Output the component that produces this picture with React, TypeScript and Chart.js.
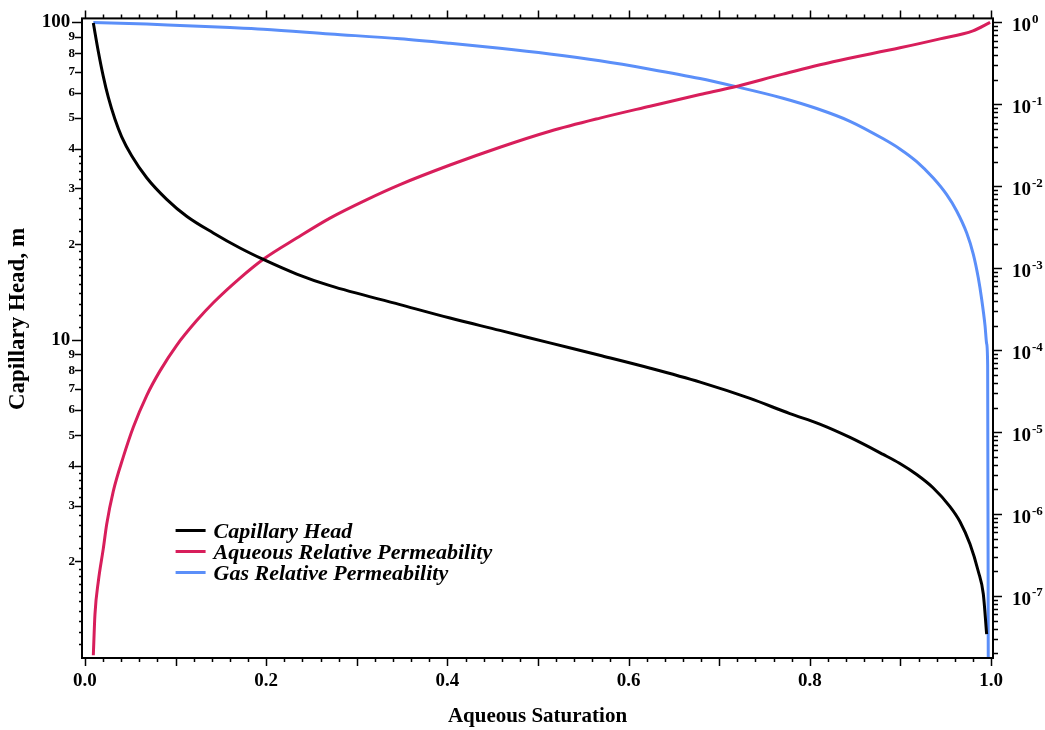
import React, { useEffect, useRef } from "react";
import { Chart, registerables } from "chart.js";

Chart.register(...registerables);

// ---------- data ----------
const CAP_S = [0.0092, 0.0147, 0.0202, 0.0257, 0.0331, 0.0405, 0.0515, 0.0681, 0.0902, 0.1122, 0.1416, 0.1711, 0.1968, 0.2337, 0.2704, 0.3477, 0.4029, 0.458, 0.513, 0.568, 0.624, 0.679, 0.734, 0.778, 0.811, 0.8444, 0.881, 0.899, 0.918, 0.9363, 0.9547, 0.9658, 0.9768, 0.986, 0.9915, 0.9952];
const CAP_H = [99.5, 81, 67.6, 58.1, 49.5, 43.6, 38.0, 32.4, 27.7, 24.5, 21.7, 19.45, 17.9, 16.1, 14.8, 12.9, 11.7, 10.7, 9.77, 8.93, 8.13, 7.35, 6.53, 5.85, 5.42, 4.92, 4.35, 4.08, 3.76, 3.41, 2.98, 2.67, 2.27, 1.86, 1.58, 1.18];

const AQ_S = [0.0092, 0.011, 0.0147, 0.0202, 0.024, 0.0312, 0.0423, 0.0533, 0.0681, 0.0828, 0.1012, 0.1233, 0.1416, 0.1711, 0.1968, 0.2337, 0.2704, 0.31, 0.3477, 0.4029, 0.4581, 0.5132, 0.5684, 0.6236, 0.6788, 0.7152, 0.7704, 0.8256, 0.8996, 0.9437, 0.9801, 0.999];
const AQ_K = [1.9e-8, 6.0e-8, 1.51e-7, 3.8e-7, 7.6e-7, 1.9e-6, 5.0e-6, 1.15e-5, 2.8e-5, 5.6e-5, 1.15e-4, 2.3e-4, 3.8e-4, 7.6e-4, 1.29e-3, 2.34e-3, 4.1e-3, 6.8e-3, 1.05e-2, 1.82e-2, 3.0e-2, 4.7e-2, 6.8e-2, 9.5e-2, 0.132, 0.162, 0.234, 0.331, 0.49, 0.63, 0.79, 1.0];

const GAS_S = [0.0092, 0.0681, 0.1049, 0.16, 0.1968, 0.2704, 0.3477, 0.4029, 0.458, 0.513, 0.5684, 0.6236, 0.6788, 0.7152, 0.7704, 0.8076, 0.8444, 0.8811, 0.899, 0.918, 0.9363, 0.9511, 0.9621, 0.9732, 0.9805, 0.986, 0.9897, 0.9934, 0.9952, 0.9963, 0.997];
const GAS_K = [1.0, 0.955, 0.918, 0.867, 0.828, 0.724, 0.631, 0.556, 0.484, 0.412, 0.34, 0.269, 0.207, 0.168, 0.119, 0.0891, 0.0622, 0.038, 0.0288, 0.02, 0.0126, 7.9e-3, 5.0e-3, 2.69e-3, 1.48e-3, 7.6e-4, 4.2e-4, 2.0e-4, 1.2e-4, 6.6e-5, 1.0e-8];

// ---------- axes / labels ----------
const SERIES_LABELS = ["Capillary Head", "Aqueous Relative Permeability", "Gas Relative Permeability"];
const SERIES_COLORS = ["#000000", "#d81e5b", "#5b8ff9"];
const X_TITLE = "Aqueous Saturation";
const Y_TITLE = "Capillary Head, m";
const X_LABEL_VALUES = [0, 0.2, 0.4, 0.6, 0.8, 1.0];
const X_MINOR_STEP = 0.02;
const LEFT_DECADES = [1, 10];
const LEFT_MANTISSAS = [1, 1.1, 1.2, 1.3, 1.4, 1.5, 1.6, 1.7, 1.8, 1.9, 2, 2.2, 2.4, 2.6, 2.8, 3, 3.2, 3.4, 3.6, 3.8, 4, 5, 6, 7, 8, 9];
const RIGHT_EXPONENTS = [0, -1, -2, -3, -4, -5, -6, -7];
const RIGHT_MANTISSAS = [1, 2, 3, 4, 5, 6, 7, 8, 9];

const X_MIN = -0.0033;
const X_MAX = 1.0022;
const Y_MIN = Math.pow(10, -0.0031);
const Y_MAX = Math.pow(10, 2.0126);
const Y2_MIN = Math.pow(10, -7.755);
const Y2_MAX = Math.pow(10, 0.049);

const FONT = "'Liberation Serif', 'Times New Roman', serif";

type TickDef = { v: number; label: string; len: number; big: boolean };

const LEFT_TICKS: TickDef[] = [];
for (const d of LEFT_DECADES) {
  for (const m of LEFT_MANTISSAS) {
    const v = m * d;
    const isInt = Number.isInteger(m);
    let label = "";
    let len = 3;
    let big = false;
    if (m === 1) {
      if (d > 1) { label = String(d) + " "; len = 10; big = true; } else { len = 0; }
    } else if (isInt) {
      label = String(m);
      len = 7;
    }
    LEFT_TICKS.push({ v, label, len, big });
  }
}
LEFT_TICKS.push({ v: 100, label: "100 ", len: 10, big: true });

const RIGHT_TICKS: { v: number; len: number }[] = [];
for (let e = 0; e >= -8; e--) {
  for (const m of RIGHT_MANTISSAS) {
    const v = m * Math.pow(10, e);
    if (v >= Y2_MIN && v <= Y2_MAX) RIGHT_TICKS.push({ v, len: m === 1 ? 9 : 5 });
  }
}

const X_TICKS: { v: number; len: number }[] = [];
for (let i = 0; i <= Math.round(1 / X_MINOR_STEP); i++) {
  X_TICKS.push({ v: i * X_MINOR_STEP, len: i % 5 === 0 ? 8 : 4 });
}

const decorPlugin = {
  id: "decor",
  afterDraw(chart: any) {
    const { ctx, chartArea: ca, scales } = chart;
    const xs = scales.x, ys = scales.y, y2 = scales.y2;
    ctx.save();
    ctx.strokeStyle = "#000";
    ctx.lineWidth = 1.5;
    ctx.beginPath();
    for (const t of X_TICKS) {
      const px = Math.round(xs.getPixelForValue(t.v)) + 0.5;
      ctx.moveTo(px, ca.bottom);
      ctx.lineTo(px, ca.bottom + t.len);
      ctx.moveTo(px, ca.top);
      ctx.lineTo(px, ca.top - t.len);
    }
    for (const t of LEFT_TICKS) {
      if (!t.len) continue;
      const py = Math.round(ys.getPixelForValue(t.v)) + 0.5;
      ctx.moveTo(ca.left, py);
      ctx.lineTo(ca.left - t.len, py);
    }
    for (const t of RIGHT_TICKS) {
      const py = Math.round(y2.getPixelForValue(t.v)) + 0.5;
      ctx.moveTo(ca.right, py);
      ctx.lineTo(ca.right + t.len, py);
    }
    ctx.stroke();

    ctx.lineWidth = 2;
    ctx.strokeRect(ca.left, ca.top, ca.right - ca.left, ca.bottom - ca.top);

    // right axis labels 10^n
    ctx.fillStyle = "#000";
    ctx.textAlign = "left";
    ctx.textBaseline = "middle";
    for (const e of RIGHT_EXPONENTS) {
      const py = y2.getPixelForValue(Math.pow(10, e));
      const lx = ca.right + 19;
      ctx.font = `bold 19px ${FONT}`;
      ctx.fillText("10", lx, py + 4);
      const w = ctx.measureText("10").width;
      ctx.font = `bold 13px ${FONT}`;
      ctx.fillText(String(e), lx + w + 1, py - 3);
    }

    // left axis title
    ctx.save();
    ctx.translate(18, 319);
    ctx.rotate(-Math.PI / 2);
    ctx.font = `bold 23px ${FONT}`;
    ctx.textAlign = "center";
    ctx.textBaseline = "middle";
    ctx.fillText(Y_TITLE, 0, 0);
    ctx.restore();

    // legend
    const lx0 = xs.getPixelForValue(0.1), lx1 = lx0 + 30;
    ctx.font = `italic bold 22px ${FONT}`;
    ctx.textAlign = "left";
    ctx.textBaseline = "alphabetic";
    SERIES_LABELS.forEach((lab, i) => {
      const ly = 530.5 + i * 21;
      ctx.strokeStyle = SERIES_COLORS[i];
      ctx.lineWidth = 3;
      ctx.beginPath();
      ctx.moveTo(lx0, ly);
      ctx.lineTo(lx1, ly);
      ctx.stroke();
      ctx.fillStyle = "#000";
      ctx.fillText(lab, lx1 + 8, ly + 7);
    });
    ctx.restore();
  },
};

export default function App() {
  const ref = useRef<HTMLCanvasElement | null>(null);
  useEffect(() => {
    if (!ref.current) return;
    const mk = (xs: number[], ys: number[]) => xs.map((x, i) => ({ x, y: ys[i] }));
    const chart = new Chart(ref.current, {
      type: "line",
      data: {
        datasets: [
          { label: SERIES_LABELS[0], data: mk(CAP_S, CAP_H), yAxisID: "y", borderColor: SERIES_COLORS[0], borderWidth: 3, pointRadius: 0, cubicInterpolationMode: "monotone", fill: false },
          { label: SERIES_LABELS[1], data: mk(AQ_S, AQ_K), yAxisID: "y2", borderColor: SERIES_COLORS[1], borderWidth: 3, pointRadius: 0, cubicInterpolationMode: "monotone", fill: false },
          { label: SERIES_LABELS[2], data: mk(GAS_S, GAS_K), yAxisID: "y2", borderColor: SERIES_COLORS[2], borderWidth: 3, pointRadius: 0, cubicInterpolationMode: "monotone", fill: false },
        ],
      },
      options: {
        responsive: false,
        animation: false,
        parsing: false as any,
        layout: { padding: { top: 17, left: 0, right: 0, bottom: 0 } },
        plugins: { legend: { display: false }, tooltip: { enabled: false } },
        scales: {
          x: {
            type: "linear",
            min: X_MIN,
            max: X_MAX,
            grid: { display: false, drawTicks: false },
            border: { display: false },
            afterBuildTicks: (s: any) => { s.ticks = X_LABEL_VALUES.map((v) => ({ value: v })); },
            afterFit: (s: any) => { s.height = 72; },
            ticks: {
              autoSkip: false,
              maxRotation: 0,
              padding: 12,
              color: "#000",
              font: { family: FONT, size: 19, weight: "bold" },
              callback: (v: any) => Number(v).toFixed(1),
            },
            title: {
              display: true,
              text: X_TITLE,
              color: "#000",
              font: { family: FONT, size: 21, weight: "bold" },
              padding: { top: 0, bottom: 1 },
            },
          },
          y: {
            type: "logarithmic",
            position: "left",
            min: Y_MIN,
            max: Y_MAX,
            grid: { display: false, drawTicks: false },
            border: { display: false },
            afterBuildTicks: (s: any) => { s.ticks = LEFT_TICKS.map((t) => ({ value: t.v })); },
            afterFit: (s: any) => { s.width = 82; },
            ticks: {
              autoSkip: false,
              padding: 7,
              color: "#000",
              font: (c: any) => ({ family: FONT, size: LEFT_TICKS[c.index] && LEFT_TICKS[c.index].big ? 19 : 13, weight: "bold" }),
              callback: (_v: any, i: number) => (LEFT_TICKS[i] ? LEFT_TICKS[i].label : ""),
            },
          },
          y2: {
            type: "logarithmic",
            position: "right",
            min: Y2_MIN,
            max: Y2_MAX,
            grid: { display: false, drawTicks: false },
            border: { display: false },
            ticks: { display: false },
            afterFit: (s: any) => { s.width = 52; },
          },
        },
      } as any,
      plugins: [decorPlugin],
    });
    return () => chart.destroy();
  }, []);
  return (
    <div style={{ position: "absolute", left: 0, top: 0, width: 1045, height: 730, background: "#fff" }}>
      <canvas ref={ref} width={1045} height={730} />
    </div>
  );
}
